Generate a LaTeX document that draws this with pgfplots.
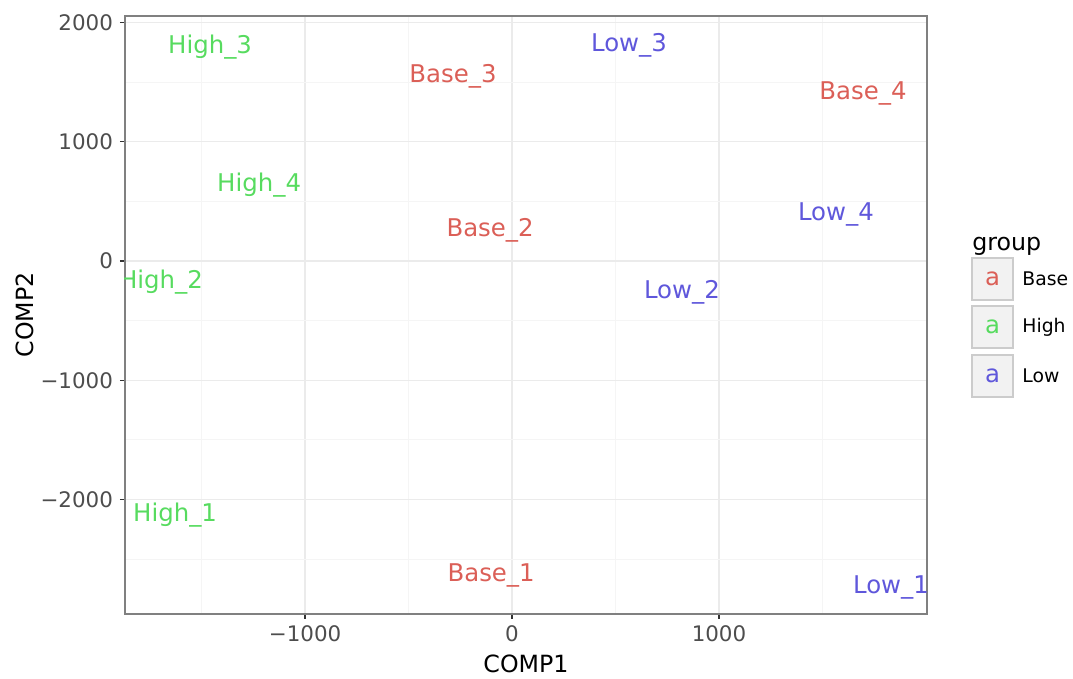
\documentclass[border=0pt]{standalone}
\usepackage{pgfplots}
\pgfplotsset{compat=1.18}
\usepackage{pgfplotstable}
\usepackage{fontspec}
\setmainfont{DejaVu Sans}
\definecolor{cBase}{HTML}{DB5F57}
\definecolor{cHigh}{HTML}{57DB5F}
\definecolor{cLow}{HTML}{5F57DB}
\definecolor{tickgrey}{HTML}{4D4D4D}
\pgfplotstableread{
x y label
-101 -2616 Base\_1
-106 277 Base\_2
-285 1568 Base\_3
1696 1426 Base\_4
}\tblBase
\pgfplotstableread{
x y label
-1628 -2113 High\_1
-1696 -159 High\_2
-1459 1811 High\_3
-1222 654 High\_4
}\tblHigh
\pgfplotstableread{
x y label
1831 -2717 Low\_1
821 -243 Low\_2
565 1828 Low\_3
1565 411 Low\_4
}\tblLow
\begin{document}
\begin{tikzpicture}
\useasboundingbox (-62.5pt,-32.5pt) rectangle (474pt,307pt);
\begin{axis}[
  at={(0,0)}, anchor=south west,
  scale only axis, width=401pt, height=299pt,
  xmin=-1870, xmax=2005, ymin=-2960, ymax=2054,
  xtick={-1000,0,1000}, ytick={-2000,-1000,0,1000,2000},
  xticklabels={−1000,0,1000}, yticklabels={−2000,−1000,0,1000,2000},
  xtick pos=bottom, ytick pos=left,
  minor xtick={-1500,-500,500,1500},
  minor ytick={-2500,-1500,-500,500,1500},
  grid=both,
  major grid style={color=black!8, line width=0.7pt},
  minor grid style={color=black!4, line width=0.45pt},
  axis line style={color=black!50, line width=0.7pt},
  tick align=outside, major tick length=2.5pt, minor tick length=0pt,
  tick style={color=black!80, line width=0.6pt},
  every tick label/.append style={font=\fontsize{10.7}{12}\selectfont, text=tickgrey},
  xlabel={COMP1}, ylabel={COMP2},
  label style={font=\fontsize{11.85}{14}\selectfont},
  xlabel style={at={(axis description cs:0.5,0)}, anchor=center, yshift=-25pt},
  ylabel style={at={(axis description cs:0,0.5)}, anchor=center, rotate=0, yshift=50pt},
  clip mode=individual, clip marker paths=true,
  nodes near coords, point meta=explicit symbolic,
  every node near coord/.append style={anchor=center, font=\fontsize{12.2}{14}\selectfont, yshift=-1.3pt},
]
\addplot[draw=none, mark=none, nodes near coords style={text=cBase}] table[x=x, y=y, meta=label] {\tblBase};
\addplot[draw=none, mark=none, nodes near coords style={text=cHigh}] table[x=x, y=y, meta=label] {\tblHigh};
\addplot[draw=none, mark=none, nodes near coords style={text=cLow}] table[x=x, y=y, meta=label] {\tblLow};
\end{axis}
% legend
\node[anchor=west, font=\fontsize{11.85}{14}\selectfont, inner sep=0pt] at (423.5pt,184pt) {group};
\foreach \yt/\yb/\lab/\col in {178/157/Base/cBase, 154/133/High/cHigh, 129.5/108.5/Low/cLow}{
  \draw[fill=black!5, draw=black!20, line width=0.6pt] (423.5pt,\yb pt) rectangle (444pt,\yt pt);
  \node[font=\fontsize{12.2}{14}\selectfont, text=\col, inner sep=0pt] at (433.75pt,{(\yt+\yb)/2*1pt}) {a};
  \node[anchor=west, font=\fontsize{9.4}{11}\selectfont, inner sep=0pt] at (448.5pt,{(\yt+\yb)/2*1pt}) {\lab};
}
\end{tikzpicture}
\end{document}
